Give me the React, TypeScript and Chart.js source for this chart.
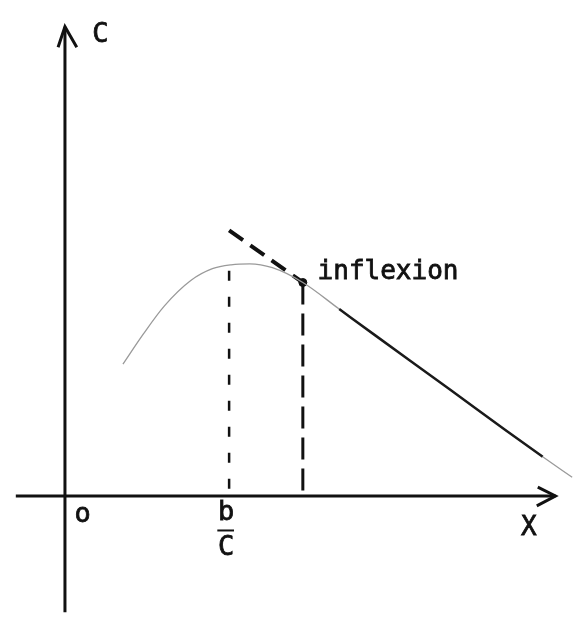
import React, { useEffect, useRef } from "react";
import { Chart, registerables } from "chart.js";

Chart.register(...registerables);

// Curve C(x), sketched (data units)
const curveX = [2.95, 4.0, 5.05, 6.4, 7.5, 8.45, 9.4, 10.55, 12.1, 13.95, 15.8, 19.6, 22.4, 24.3, 25.8];
const curveY = [6.7, 8.25, 9.65, 10.95, 11.55, 11.75, 11.8, 11.6, 10.85, 9.5, 8.15, 5.4, 3.35, 2.0, 0.95];

// Tangent at the inflexion point
const tangentX = [8.35, 12.1];
const tangentY = [13.5, 10.85];

// Special abscissae
const peakX = 8.35; // b / C
const peakY = 11.45;
const inflexionX = 12.1;
const inflexionY = 10.85;

// Axes extent
const xAxisRange = [-2.5, 24.95];
const yAxisRange = [-5.9, 23.85];

// Text labels
const labelTexts = ["C", "o", "b", "C", "X", "inflexion"];
const labelX = [1.8, 0.9, 8.2, 8.2, 23.6, 12.85];
const labelY = [23.45, -0.95, -0.85, -2.65, -1.65, 11.35];
const labelAlign = ["center", "center", "center", "center", "center", "left"];
const labelSize = [27, 27, 27, 27, 26, 26];

const fractionBarX = [7.75, 8.6];
const fractionBarY = -1.75;

export default function App() {
  const ref = useRef<HTMLCanvasElement | null>(null);

  useEffect(() => {
    document.body.style.margin = "0";
    const canvas = ref.current;
    if (!canvas) return;

    const pts = (xs: number[], ys: number[]) => xs.map((x, i) => ({ x, y: ys[i] }));

    const lineDs = (data: any[], extra: any = {}) => ({
      type: "line" as const,
      data,
      borderColor: "#111",
      borderWidth: 3,
      pointRadius: 0,
      fill: false,
      tension: 0,
      ...extra,
    });

    const labelPlugin = {
      id: "labels",
      afterDatasetsDraw(chart: any) {
        const { ctx, scales } = chart;
        ctx.save();
        ctx.fillStyle = "#111";
        ctx.strokeStyle = "#111";
        ctx.lineWidth = 0.8;
        ctx.textBaseline = "middle";
        labelTexts.forEach((t, i) => {
          ctx.font = `${labelSize[i]}px "DejaVu Sans Mono", monospace`;
          ctx.textAlign = labelAlign[i];
          const px = scales.x.getPixelForValue(labelX[i]);
          const py = scales.y.getPixelForValue(labelY[i]);
          ctx.fillText(t, px, py);
          ctx.strokeText(t, px, py);
        });
        ctx.restore();
      },
    };

    const chart = new Chart(canvas, {
      type: "scatter",
      data: {
        datasets: [
          // axes
          lineDs([{ x: xAxisRange[0], y: 0 }, { x: xAxisRange[1], y: 0 }]),
          lineDs([{ x: 0, y: yAxisRange[0] }, { x: 0, y: yAxisRange[1] }]),
          // arrow heads
          lineDs([{ x: 24.05, y: 0.45 }, { x: xAxisRange[1], y: 0 }, { x: 24.0, y: -0.5 }], { borderWidth: 3 }),
          lineDs([{ x: -0.35, y: 22.8 }, { x: 0, y: yAxisRange[1] }, { x: 0.6, y: 22.8 }], { borderWidth: 3 }),
          // curve
          lineDs(pts(curveX, curveY), {
            borderWidth: 2,
            cubicInterpolationMode: "monotone",
            segment: {
              borderColor: (c: any) =>
                c.p0.parsed.x >= 13.5 && c.p1.parsed.x <= 24.4 ? "#1a1a1a" : "#9a9a9a",
              borderWidth: (c: any) =>
                c.p0.parsed.x >= 13.5 && c.p1.parsed.x <= 24.4 ? 2.5 : 1.3,
            },
          }),
          // tangent
          lineDs(pts(tangentX, tangentY), { borderWidth: 4, borderDash: [17, 9] }),
          // vertical dashed lines
          lineDs([{ x: peakX, y: peakY }, { x: peakX, y: 0 }], { borderWidth: 2.5, borderDash: [10, 16] }),
          lineDs([{ x: inflexionX, y: inflexionY }, { x: inflexionX, y: 0 }], { borderWidth: 3, borderDash: [22, 9] }),
          // fraction bar
          lineDs([{ x: fractionBarX[0], y: fractionBarY }, { x: fractionBarX[1], y: fractionBarY }], { borderWidth: 2 }),
          // inflexion point
          {
            type: "scatter" as const,
            data: [{ x: inflexionX, y: inflexionY }],
            pointRadius: 4,
            pointBackgroundColor: "#111",
            pointBorderColor: "#111",
          },
        ],
      },
      options: {
        animation: false,
        responsive: false,
        maintainAspectRatio: false,
        layout: { padding: 0 },
        plugins: { legend: { display: false }, tooltip: { enabled: false } },
        scales: {
          x: { type: "linear", min: -3.05, max: 26.3, display: false },
          y: { type: "linear", min: -6.35, max: 24.95, display: false },
        },
      },
      plugins: [labelPlugin],
    } as any);

    return () => chart.destroy();
  }, []);

  return (
    <div style={{ width: 587, height: 626, background: "#fff" }}>
      <canvas ref={ref} width={587} height={626} style={{ display: "block" }} />
    </div>
  );
}
